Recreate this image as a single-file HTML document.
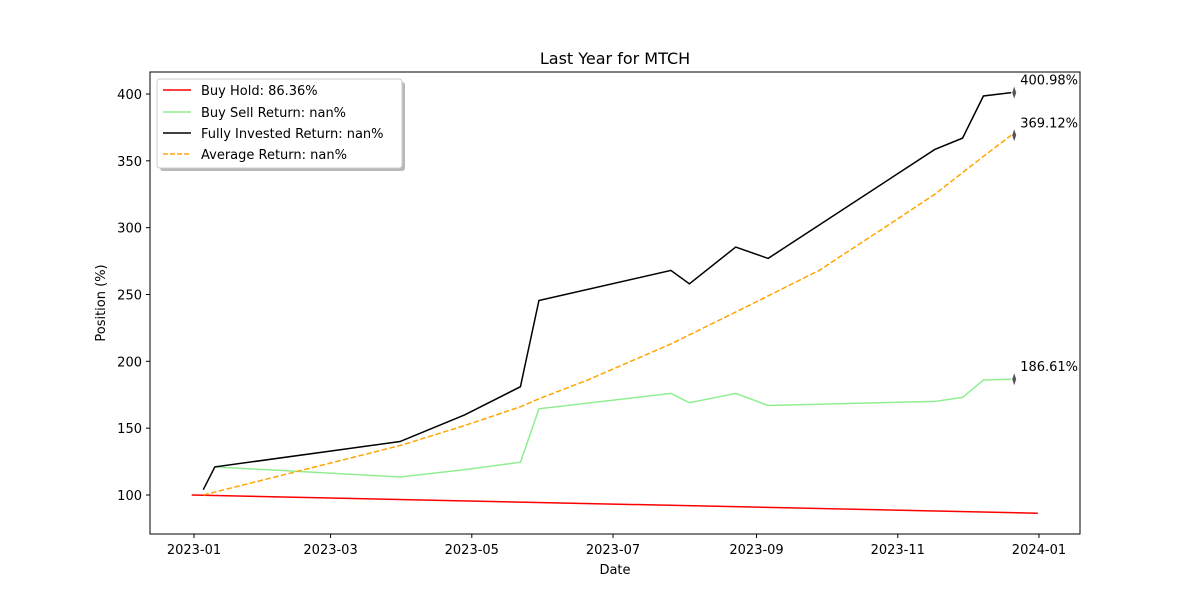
<!DOCTYPE html>
<html><head><meta charset="utf-8"><style>
body{margin:0;background:#fff;font-family:"Liberation Sans","DejaVu Sans",sans-serif;}
svg text{font-family:"DejaVu Sans","Liberation Sans",sans-serif;}
</style></head><body>
<svg id="chart" width="1200" height="600" xmlns="http://www.w3.org/2000/svg">
<rect width="1200" height="600" fill="#fff"/>
<text x="615" y="64" font-size="16" text-anchor="middle">Last Year for MTCH</text>
<g id="marks"></g>
<rect x="150" y="72" width="930" height="462" fill="none" stroke="#000" stroke-width="1"/>
<g id="axes"></g>
<text x="615" y="574" font-size="13" text-anchor="middle">Date</text>
<text transform="translate(105,303) rotate(-90)" font-size="13" text-anchor="middle">Position (%)</text>
<g>
<rect x="160" y="82" width="245" height="89" rx="3" fill="#888" opacity="0.6"/>
<rect x="157" y="79" width="245" height="89" rx="3" fill="#fff" stroke="#ccc"/>
<line x1="163" y1="90" x2="191" y2="90" stroke="red" stroke-width="1.5"/>
<text x="201" y="95" font-size="13">Buy Hold: 86.36%</text>
<line x1="163" y1="112" x2="191" y2="112" stroke="lightgreen" stroke-width="1.5"/>
<text x="201" y="117" font-size="13">Buy Sell Return: nan%</text>
<line x1="163" y1="133" x2="191" y2="133" stroke="#000" stroke-width="1.5"/>
<text x="201" y="138" font-size="13">Fully Invested Return: nan%</text>
<line x1="163" y1="154" x2="191" y2="154" stroke="orange" stroke-width="1.5" stroke-dasharray="5,2"/>
<text x="201" y="159" font-size="13">Average Return: nan%</text>
</g>
</svg>
<script>
const xTickLabels=["2023-01","2023-03","2023-05","2023-07","2023-09","2023-11","2024-01"];
const xTickDays=[0,59,120,181,243,304,365];
const yTicks=[100,150,200,250,300,350,400];
const holdDays=[-1,364.5];
const holdVals=[100,86.36];
const fullDays=[4,9,89,117,141,149,206,214,234,248,320,332,341,353];
const fullVals=[104,121,140,160,181,245.5,268,258,285.5,277,358.5,367,398.5,400.98];
const bsDays=[9,89,117,141,149,206,214,234,248,320,332,341,353];
const bsVals=[121,113.5,119,124.5,164.5,176,169,176,167,170,173,186,186.61];
const avgDays=[4,50,89,117,141,149,170,206,240,270,300,320,340,353];
const avgVals=[100,120,137,152,166,172,186,213,242,268,302,325,352,369.12];
const X=d=>194+d*2.315, Y=v=>495-(v-100)*1.3367;
const NS="http://www.w3.org/2000/svg";
const marks=document.getElementById('marks'), axes=document.getElementById('axes');
function mk(t,a,p){const e=document.createElementNS(NS,t);for(const k in a)e.setAttribute(k,a[k]);p.appendChild(e);return e;}
function line(ds,vs,color,name,dash){
 const e=mk('polyline',{points:ds.map((d,i)=>X(d)+','+Y(vs[i])).join(' '),fill:'none',stroke:color,'stroke-width':1.5},marks);
 if(dash)e.setAttribute('stroke-dasharray',dash);
 
 
}
line(holdDays,holdVals,'red','buy-hold-line');
line(bsDays,bsVals,'lightgreen','buy-sell-line');
line(fullDays,fullVals,'#000','fully-invested-line');
line(avgDays,avgVals,'orange','average-return-line','5.5,2.5');
[[fullDays,fullVals],[avgDays,avgVals],[bsDays,bsVals]].forEach(([ds,vs])=>{
 const d=ds[ds.length-1],v=vs[vs.length-1],x=X(d)+3,y=Y(v);
 const w=mk('path',{d:`M${x},${y-6} L${x+2},${y} L${x},${y+6} L${x-2},${y} Z`,fill:'#555'},marks);
 
 
 const t=mk('text',{x:x+6,y:y-8,'font-size':13},marks);t.textContent=v.toFixed(2)+'%';
 
 
});
xTickLabels.forEach((l,i)=>{const x=X(xTickDays[i]);
 mk('line',{x1:x,x2:x,y1:534,y2:538,stroke:'#000'},axes);
 const t=mk('text',{x:x,y:554,'font-size':13,'text-anchor':'middle'},axes);t.textContent=l;
 
 });
yTicks.forEach(v=>{const y=Y(v);
 mk('line',{x1:146,x2:150,y1:y,y2:y,stroke:'#000'},axes);
 const t=mk('text',{x:142,y:y+5,'font-size':13,'text-anchor':'end'},axes);t.textContent=v;
 
 });
</script>
</body></html>
